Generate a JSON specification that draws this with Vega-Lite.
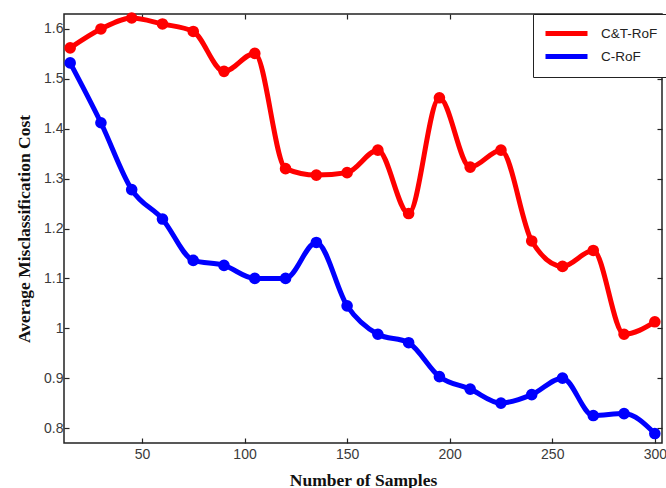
{
  "$schema": "https://vega.github.io/schema/vega-lite/v6.json",
  "width": 598,
  "height": 429,
  "autosize": {"type": "none"},
  "padding": {"left": 64, "top": 14, "right": 4, "bottom": 45},
  "background": "white",
  "config": {
    "view": {"stroke": "#222", "strokeWidth": 1.5},
    "axis": {
      "grid": false,
      "domain": false,
      "tickColor": "#222",
      "tickSize": -5,
      "tickWidth": 1.2,
      "labelFont": "Liberation Sans",
      "labelFontSize": 14,
      "labelColor": "#3a3a3a",
      "titleFont": "Liberation Serif",
      "titleFontSize": 17.5,
      "titleFontWeight": "bold",
      "titleColor": "#111"
    }
  },
  "data": {
    "values": [
      {"n": 15, "cost": 1.562, "method": "C&T-RoF"},
      {"n": 30, "cost": 1.600, "method": "C&T-RoF"},
      {"n": 45, "cost": 1.622, "method": "C&T-RoF"},
      {"n": 60, "cost": 1.610, "method": "C&T-RoF"},
      {"n": 75, "cost": 1.595, "method": "C&T-RoF"},
      {"n": 90, "cost": 1.515, "method": "C&T-RoF"},
      {"n": 105, "cost": 1.551, "method": "C&T-RoF"},
      {"n": 120, "cost": 1.320, "method": "C&T-RoF"},
      {"n": 135, "cost": 1.307, "method": "C&T-RoF"},
      {"n": 150, "cost": 1.312, "method": "C&T-RoF"},
      {"n": 165, "cost": 1.357, "method": "C&T-RoF"},
      {"n": 180, "cost": 1.230, "method": "C&T-RoF"},
      {"n": 195, "cost": 1.462, "method": "C&T-RoF"},
      {"n": 210, "cost": 1.323, "method": "C&T-RoF"},
      {"n": 225, "cost": 1.357, "method": "C&T-RoF"},
      {"n": 240, "cost": 1.175, "method": "C&T-RoF"},
      {"n": 255, "cost": 1.124, "method": "C&T-RoF"},
      {"n": 270, "cost": 1.156, "method": "C&T-RoF"},
      {"n": 285, "cost": 0.988, "method": "C&T-RoF"},
      {"n": 300, "cost": 1.013, "method": "C&T-RoF"},
      {"n": 15, "cost": 1.532, "method": "C-RoF"},
      {"n": 30, "cost": 1.412, "method": "C-RoF"},
      {"n": 45, "cost": 1.278, "method": "C-RoF"},
      {"n": 60, "cost": 1.219, "method": "C-RoF"},
      {"n": 75, "cost": 1.136, "method": "C-RoF"},
      {"n": 90, "cost": 1.126, "method": "C-RoF"},
      {"n": 105, "cost": 1.100, "method": "C-RoF"},
      {"n": 120, "cost": 1.100, "method": "C-RoF"},
      {"n": 135, "cost": 1.172, "method": "C-RoF"},
      {"n": 150, "cost": 1.045, "method": "C-RoF"},
      {"n": 165, "cost": 0.988, "method": "C-RoF"},
      {"n": 180, "cost": 0.971, "method": "C-RoF"},
      {"n": 195, "cost": 0.903, "method": "C-RoF"},
      {"n": 210, "cost": 0.878, "method": "C-RoF"},
      {"n": 225, "cost": 0.850, "method": "C-RoF"},
      {"n": 240, "cost": 0.867, "method": "C-RoF"},
      {"n": 255, "cost": 0.900, "method": "C-RoF"},
      {"n": 270, "cost": 0.825, "method": "C-RoF"},
      {"n": 285, "cost": 0.829, "method": "C-RoF"},
      {"n": 300, "cost": 0.789, "method": "C-RoF"}
    ]
  },
  "layer": [
    {
      "mark": {"type": "line", "interpolate": "monotone", "strokeWidth": 5, "point": {"filled": true, "size": 135, "opacity": 1}},
      "encoding": {
        "x": {
          "field": "n", "type": "quantitative",
          "scale": {"domain": [12, 303.5], "nice": false, "zero": false},
          "axis": {"orient": "bottom", "values": [50, 100, 150, 200, 250, 300], "format": "d", "title": "Number of Samples", "labelPadding": 9, "titlePadding": 10}
        },
        "y": {
          "field": "cost", "type": "quantitative",
          "scale": {"domain": [0.77, 1.63], "nice": false, "zero": false},
          "axis": {"orient": "left", "values": [0.8, 0.9, 1, 1.1, 1.2, 1.3, 1.4, 1.5, 1.6], "format": "~g", "title": "Average Misclassification Cost", "labelPadding": 6, "titlePadding": 10}
        },
        "color": {
          "field": "method", "type": "nominal",
          "scale": {"domain": ["C&T-RoF", "C-RoF"], "range": ["#ff0000", "#0000ff"]},
          "legend": {
            "orient": "none", "legendX": 469, "legendY": 0,
            "title": null,
            "fillColor": "white", "strokeColor": "#222",
            "padding": 10, "rowPadding": 2,
            "symbolType": "M-1,0H5", "symbolSize": 196, "symbolStrokeWidth": 5,
            "labelOffset": 39, "labelFont": "Liberation Sans", "labelFontSize": 13.5, "labelColor": "#222"
          }
        }
      }
    },
    {
      "mark": {"type": "line", "strokeOpacity": 0},
      "encoding": {
        "x": {
          "field": "n", "type": "quantitative",
          "scale": {"domain": [12, 303.5], "nice": false, "zero": false},
          "axis": {"orient": "top", "values": [50, 100, 150, 200, 250, 300], "labels": false, "title": null}
        },
        "y": {
          "field": "cost", "type": "quantitative",
          "scale": {"domain": [0.77, 1.63], "nice": false, "zero": false},
          "axis": {"orient": "right", "values": [0.8, 0.9, 1, 1.1, 1.2, 1.3, 1.4, 1.5, 1.6], "labels": false, "title": null}
        },
        "detail": {"field": "method"}
      }
    }
  ],
  "resolve": {"axis": {"x": "independent", "y": "independent"}}
}
